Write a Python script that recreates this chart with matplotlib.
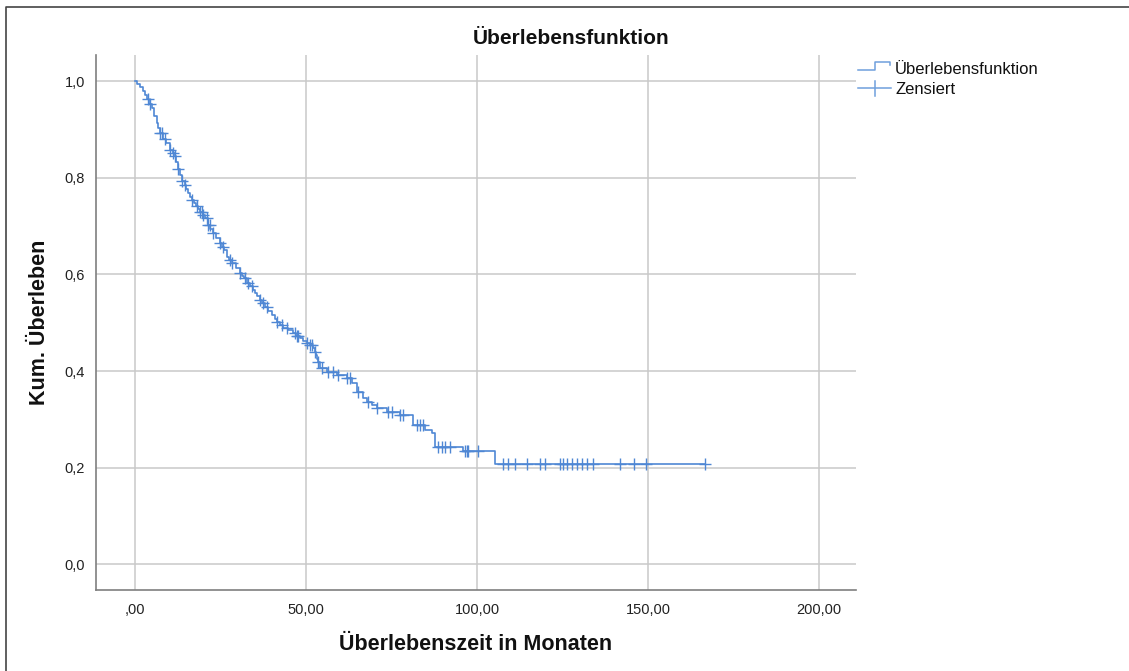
import matplotlib
matplotlib.use("Agg")
import matplotlib.pyplot as plt
from matplotlib.lines import Line2D
from matplotlib.ticker import FuncFormatter
import numpy as np

plt.rcParams['font.family'] = ['Liberation Sans', 'DejaVu Sans']

# Kaplan-Meier estimate: time (months) of each step and survival after it
step_times = [0.0, 0.7, 1.5, 2.2, 2.9, 3.6, 4.2, 4.9, 5.6, 6.3, 6.8, 7.3, 8.2,
              9.1, 10.2, 11.0, 11.7, 12.1, 12.6, 13.2, 13.7, 14.6, 15.0, 15.5,
              16.1, 16.7, 17.2, 17.8, 18.4, 19.0, 19.8, 20.5, 21.3, 22.0, 22.8,
              23.8, 24.9, 25.4, 26.0, 26.9, 27.6, 28.4, 29.5, 30.7, 31.3, 31.9,
              32.7, 33.6, 34.5, 35.1, 35.7, 36.5, 37.2, 38.0, 39.0, 40.1, 40.8,
              41.5, 42.4, 43.3, 44.7, 46.2, 47.2, 48.2, 49.2, 50.3, 51.1, 52.0,
              52.5, 52.9, 53.2, 53.5, 54.1, 56.1, 59.1, 62.0, 63.5, 64.9, 66.7,
              67.8, 69.3, 70.8, 73.7, 77.5, 81.3, 84.8, 86.8, 87.7, 95.9, 105.3]
survival = [1.000, 0.994, 0.988, 0.980, 0.971, 0.962, 0.953, 0.944, 0.928,
            0.913, 0.903, 0.892, 0.881, 0.871, 0.857, 0.851, 0.846, 0.832,
            0.819, 0.806, 0.794, 0.784, 0.776, 0.768, 0.760, 0.753, 0.747,
            0.741, 0.735, 0.729, 0.723, 0.717, 0.703, 0.695, 0.686, 0.676,
            0.665, 0.657, 0.650, 0.636, 0.629, 0.623, 0.613, 0.603, 0.597,
            0.592, 0.582, 0.575, 0.567, 0.561, 0.555, 0.547, 0.540, 0.532,
            0.524, 0.516, 0.508, 0.501, 0.495, 0.489, 0.484, 0.478, 0.473,
            0.468, 0.463, 0.458, 0.453, 0.447, 0.440, 0.433, 0.425, 0.418,
            0.406, 0.398, 0.392, 0.385, 0.375, 0.357, 0.344, 0.336, 0.330,
            0.323, 0.315, 0.309, 0.288, 0.278, 0.272, 0.243, 0.234, 0.208]
last_time = 166.7

# Censored observations (months)
censored = [3.8, 4.4, 7.3, 7.9, 8.8, 10.2, 11.1, 11.7, 12.6, 13.7, 14.6, 16.7,
            18.1, 19.0, 19.6, 19.9, 21.0, 21.3, 21.9, 22.8, 24.9, 25.7, 27.8,
            28.4, 30.7, 32.2, 33.0, 34.2, 36.5, 37.4, 38.6, 41.5, 43.0, 44.4,
            46.8, 47.4, 47.7, 50.3, 51.2, 51.8, 52.6, 53.5, 54.7, 56.4, 57.9,
            59.4, 62.0, 62.9, 65.2, 68.1, 70.8, 74.0, 75.1, 77.5, 78.4, 82.5,
            83.3, 84.2, 88.6, 89.8, 90.6, 92.1, 96.5, 97.1, 97.4, 100.3, 107.7,
            109.2, 111.1, 114.5, 118.4, 119.9, 124.3, 125.1, 126.3, 127.8,
            129.2, 130.7, 132.2, 133.9, 141.8, 145.9, 149.4, 166.7]

x_ticks = [0, 50, 100, 150, 200]
y_ticks = [0.0, 0.2, 0.4, 0.6, 0.8, 1.0]

line_color = '#4f87d4'
grid_color = '#c9c9c9'
spine_color = '#7f7f7f'

fig = plt.figure(figsize=(11.29, 6.71), dpi=100)
ax = fig.add_axes([96 / 1129, 81 / 671, 760 / 1129, 535 / 671])

times = np.array(step_times + [last_time])
surv = np.array(survival + [survival[-1]])
ax.plot(times, surv, drawstyle='steps-post', color=line_color, lw=1.2, zorder=3)

cens = np.array(censored)
idx = np.searchsorted(np.array(step_times), cens, side='right') - 1
cens_y = np.array(survival)[idx]
ax.plot(cens, cens_y, linestyle='none', marker='+', markersize=8,
        markeredgewidth=1.0, color=line_color, zorder=4)

ax.set_xlim(-11.4, 210.8)
ax.set_ylim(-0.053, 1.054)
ax.set_xticks(x_ticks)
ax.set_yticks(y_ticks)
ax.xaxis.set_major_formatter(FuncFormatter(
    lambda v, p: ('%.2f' % v).replace('.', ',').lstrip('0') if v == 0
    else ('%.2f' % v).replace('.', ',')))
ax.yaxis.set_major_formatter(FuncFormatter(
    lambda v, p: ('%.1f' % v).replace('.', ',')))
ax.tick_params(length=0, labelsize=10.5, colors='#222222', pad=8)
ax.tick_params(axis='x', pad=9)
ax.grid(True, color=grid_color, lw=1.1)
ax.set_axisbelow(True)
for s in ['top', 'right']:
    ax.spines[s].set_visible(False)
for s in ['left', 'bottom']:
    ax.spines[s].set_color(spine_color)
    ax.spines[s].set_linewidth(1.2)

fig.text(571 / 1129, 1 - 38 / 671, 'Überlebensfunktion', ha='center',
         va='center', fontsize=15, fontweight='bold', color='#111111')
fig.text(476 / 1129, 1 - 645 / 671, 'Überlebenszeit in Monaten', ha='center',
         va='center', fontsize=15.5, fontweight='bold', color='#111111')
fig.text(40 / 1129, 1 - 322 / 671, 'Kum. Überleben', ha='center',
         va='center', rotation=90, fontsize=15.5, fontweight='bold',
         color='#111111')

# Legend drawn in pixel coordinates
def px(x, y):
    return x / 1129, 1 - y / 671

leg_color = '#6f9fdc'
xs, ys = zip(*[px(858, 70), px(875, 70), px(875, 62), px(890, 62), px(890, 65)])
fig.add_artist(Line2D(xs, ys, color=leg_color, lw=1.1))
xs, ys = zip(*[px(858, 88), px(891, 88)])
fig.add_artist(Line2D(xs, ys, color=leg_color, lw=1.1))
xs, ys = zip(*[px(875, 81), px(875, 96)])
fig.add_artist(Line2D(xs, ys, color=leg_color, lw=1.1))
fig.text(*px(895, 69), 'Überlebensfunktion', ha='left', va='center',
         fontsize=12, color='#111111')
fig.text(*px(895, 90), 'Zensiert', ha='left', va='center',
         fontsize=12, color='#111111')

# Outer frame
xs, ys = zip(*[px(6, 700), px(6, 7), px(1140, 7)])
fig.add_artist(Line2D(xs, ys, color='#444444', lw=1.2))

fig.savefig('out.png', dpi=100)
